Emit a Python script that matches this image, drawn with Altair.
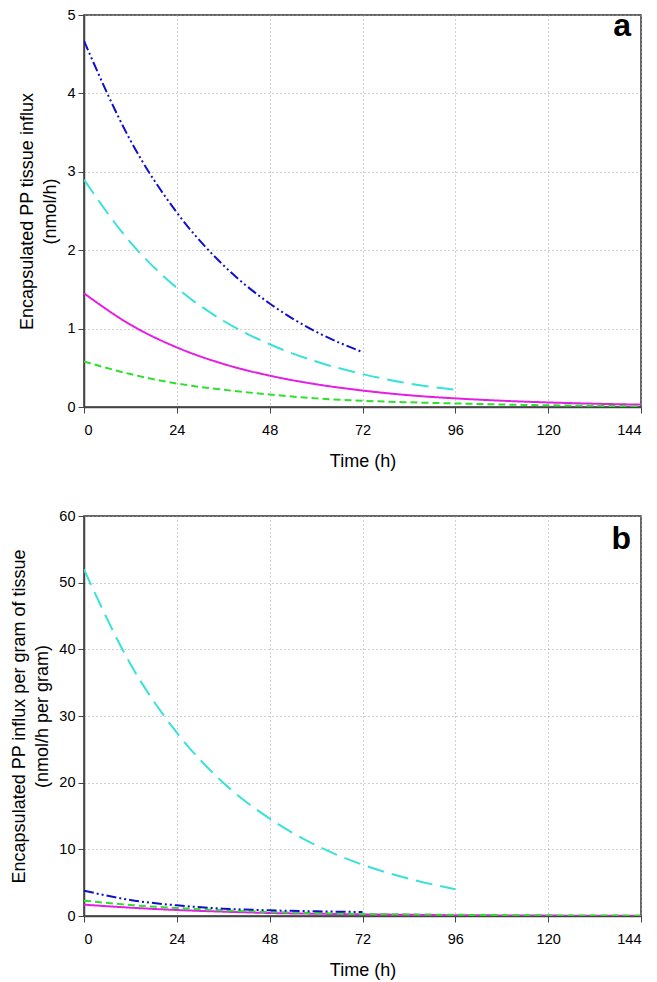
import altair as alt
import pandas as pd

hours = [0, 12, 24, 36, 48, 60, 72, 84, 96, 108, 120, 132, 144]
x_ticks = [0, 24, 48, 72, 96, 120, 144]

# Panel a: encapsulated PP tissue influx (nmol/h)
a_magenta = [1.45, 1.05, 0.76, 0.55, 0.40, 0.29, 0.21, 0.15, 0.11, 0.08, 0.058, 0.042, 0.03]
a_green = [0.58, 0.42, 0.30, 0.22, 0.16, 0.11, 0.08, 0.06, 0.045, 0.032, 0.022, 0.015, 0.01]
a_cyan = [2.90, 2.10, 1.52, 1.10, 0.80, 0.58, 0.42, 0.30, 0.22]
a_blue = [4.67, 3.40, 2.48, 1.81, 1.32, 0.96, 0.70]

# Panel b: influx per gram of tissue (nmol/h per gram)
b_magenta = [1.7, 1.25, 0.9, 0.65, 0.45, 0.34, 0.25, 0.18, 0.12, 0.09, 0.06, 0.045, 0.03]
b_green = [2.3, 1.65, 1.2, 0.85, 0.6, 0.43, 0.3, 0.24, 0.18, 0.13, 0.09, 0.07, 0.05]
b_cyan = [52.0, 37.8, 27.5, 20.0, 14.6, 10.6, 7.7, 5.6, 4.0]
b_blue = [3.8, 2.4, 1.6, 1.1, 0.85, 0.7, 0.6]

series_names = ["magenta", "green", "cyan", "blue"]
series_colors = ["#E41EE4", "#2EE02E", "#38E2D8", "#1010C8"]
series_dashes = [[1, 0], [7, 4], [17, 8], [10, 3, 2, 3, 2, 3]]


def long_df(lists):
    rows = []
    for name, vals in zip(series_names, lists):
        for t, v in zip(hours, vals):
            rows.append({"s": name, "t": t, "v": v})
    return pd.DataFrame(rows)


df_a = long_df([a_magenta, a_green, a_cyan, a_blue])
df_b = long_df([b_magenta, b_green, b_cyan, b_blue])

W = 557


def panel(df, ymax, ystep, ytitle, letter, h, lab_y):
    lines = alt.Chart(df).mark_line(strokeWidth=2, clip=True, interpolate="monotone").encode(
        x=alt.X("t:Q", scale=alt.Scale(domain=[0, 144], nice=False),
                axis=alt.Axis(values=x_ticks, title="Time (h)", titlePadding=16,
                              labelPadding=10)),
        y=alt.Y("v:Q", scale=alt.Scale(domain=[0, ymax], nice=False),
                axis=alt.Axis(values=list(range(0, ymax + 1, ystep)), title=ytitle,
                              titlePadding=7, labelPadding=3)),
        color=alt.Color("s:N", scale=alt.Scale(domain=series_names, range=series_colors),
                        legend=None),
        strokeDash=alt.StrokeDash("s:N", scale=alt.Scale(domain=series_names, range=series_dashes),
                                  legend=None),
    )
    lab = alt.Chart(pd.DataFrame({"lab": [letter]})).mark_text(
        fontSize=32, fontWeight="bold", align="right", baseline="alphabetic",
        font="Liberation Sans", color="black"
    ).encode(x=alt.value(W - 10), y=alt.value(lab_y), text="lab:N")
    return alt.layer(lines, lab).properties(width=W, height=h)


pa = panel(df_a, 5, 1, ["Encapsulated PP tissue influx", "(nmol/h)"], "a", 392, 21)
pb = panel(df_b, 60, 10, ["Encapsulated PP influx per gram of tissue", "(nmol/h per gram)"], "b", 400, 33)

chart = alt.vconcat(pa, pb, spacing=35).properties(
    padding={"left": 2, "top": -2, "right": 0, "bottom": 0}
).configure_view(
    stroke="#333333", strokeWidth=1.5
).configure_axis(
    labelFont="Liberation Sans", titleFont="Liberation Sans",
    labelFontSize=14.5, titleFontSize=18, titleFontWeight="normal",
    labelColor="black", titleColor="black",
    domainColor="#444444", domainWidth=1.5, tickColor="#444444", tickSize=6,
    grid=True, gridColor="#a0a0a0", gridDash=[1, 3], gridWidth=1,
    titleLineHeight=23,
)

chart.save("out.html", embed_options={"renderer": "svg", "actions": False})
